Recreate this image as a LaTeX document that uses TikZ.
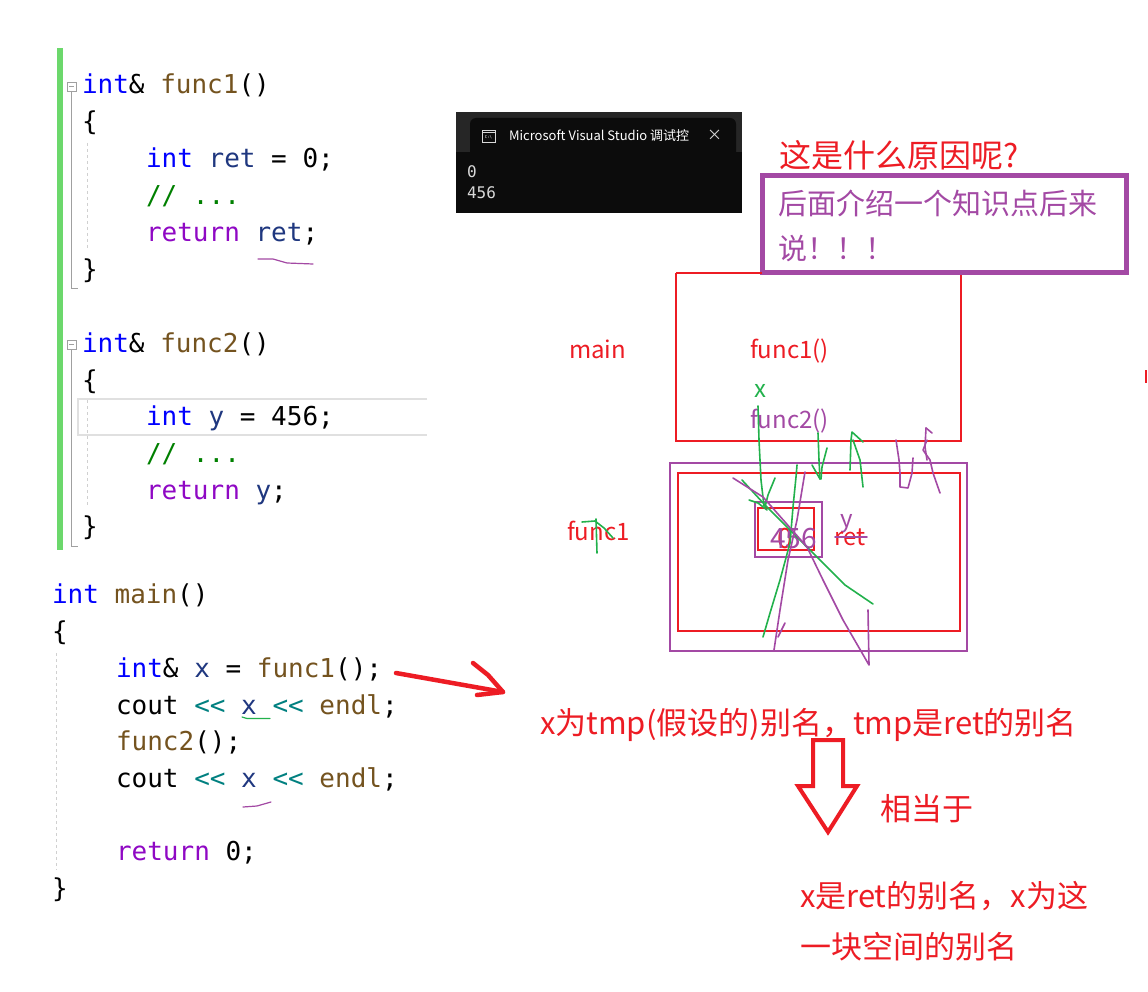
\documentclass[tikz,border=0pt]{standalone}
\usepackage{fontspec}
\setmainfont{Noto Sans CJK SC}
\newfontfamily\codefont{DejaVu Sans Mono}[Ligatures=TeXOff]
\definecolor{kw}{HTML}{0000FF}
\definecolor{fn}{HTML}{74531F}
\definecolor{var}{HTML}{1F377F}
\definecolor{ctl}{HTML}{8F08C4}
\definecolor{cmt}{HTML}{008000}
\definecolor{op}{HTML}{008080}
\definecolor{pred}{HTML}{ED1C24}
\definecolor{ppur}{HTML}{A349A4}
\definecolor{pgreen}{HTML}{22B14C}
\definecolor{gbar}{HTML}{6CD86C}
\definecolor{guide}{HTML}{A0A0A0}
\definecolor{conbg}{HTML}{0C0C0C}
\definecolor{conframe}{HTML}{262626}
\tikzset{
  lbl/.style={inner sep=0pt, outer sep=0pt, anchor=base west},
  code/.style={lbl, font=\codefont\fontsize{26}{30}\selectfont},
  note/.style={lbl, font=\fontsize{#1}{#1}\selectfont},
  note/.default=30,
  scrib/.style={line width=1.6pt, line join=round, line cap=round},
  box/.style={line width=2.2pt},
}
\begin{document}
\begin{tikzpicture}[x=1pt,y=-1pt]
\useasboundingbox (0,0) rectangle (1148,992);
\fill[white] (0,0) rectangle (1148,992);

% ---------------- code editor ----------------
\fill[gbar] (57,48) rectangle (63,550);
% fold markers
\draw[guide, line width=0.8pt] (67,82) rectangle (76,91);
\draw[guide, line width=0.8pt] (69,86.5) -- (74,86.5);
\draw[guide, line width=0.8pt] (71.5,91) -- (71.5,288) -- (78,288);
\draw[guide, line width=0.8pt] (67,340) rectangle (76,349);
\draw[guide, line width=0.8pt] (69,344.5) -- (74,344.5);
\draw[guide, line width=0.8pt] (71.5,349) -- (71.5,546) -- (78,546);
% indent guides
\draw[guide!50, line width=1pt, dashed] (87,143) -- (87,250);
\draw[guide!50, line width=1pt, dashed] (87,400) -- (87,507);
\draw[guide!50, line width=1pt, dashed] (56,653) -- (56,870);
% current line highlight
\draw[black!12, line width=2pt] (427,399) -- (78,399) -- (78,435) -- (427,435);

\node[code] (f1a) at (82,94)  {\textcolor{kw}{int}\textcolor{black}{\&} \textcolor{fn}{func1}()};
\node[code] (f1b) at (82,131) {\{};
\node[code] (f1c) at (146,168) {\textcolor{kw}{int} \textcolor{var}{ret} = 0;};
\node[code] (f1d) at (146,205) {\textcolor{cmt}{// ...}};
\node[code] (f1e) at (146,242) {\textcolor{ctl}{return} \textcolor{var}{ret};};
\node[code] (f1f) at (82,279) {\}};

\node[code] (f2a) at (82,352) {\textcolor{kw}{int}\textcolor{black}{\&} \textcolor{fn}{func2}()};
\node[code] (f2b) at (82,389) {\{};
\node[code] (f2c) at (146,425) {\textcolor{kw}{int} \textcolor{var}{y} = 456;};
\node[code] (f2d) at (146,462) {\textcolor{cmt}{// ...}};
\node[code] (f2e) at (146,499) {\textcolor{ctl}{return} \textcolor{var}{y};};
\node[code] (f2f) at (82,535) {\}};

\node[code] (m1) at (52,603) {\textcolor{kw}{int} \textcolor{fn}{main}()};
\node[code] (m2) at (52,640) {\{};
\node[code] (m3) at (116,677) {\textcolor{kw}{int}\& \textcolor{var}{x} = \textcolor{fn}{func1}();};
\node[code] (m4) at (116,714) {cout \textcolor{op}{<<} \textcolor{var}{x} \textcolor{op}{<<} \textcolor{fn}{endl};};
\node[code] (m5) at (116,750) {\textcolor{fn}{func2}();};
\node[code] (m6) at (116,787) {cout \textcolor{op}{<<} \textcolor{var}{x} \textcolor{op}{<<} \textcolor{fn}{endl};};
\node[code] (m7) at (116,860) {\textcolor{ctl}{return} 0;};
\node[code] (m8) at (52,897) {\}};

% underline scribbles in code
\draw[ppur, scrib, line width=1.2pt] (258,259) -- (273,259) -- (287,263) -- (313,264);
\draw[pgreen, scrib, line width=1.2pt] (242,717) -- (247,718.5) -- (270,718.5);
\draw[ppur, scrib, line width=1.2pt] (243,807) -- (257,806) -- (271,802);

% red hand arrow from code
\coordinate (ra0) at (396,673);
\coordinate (ra1) at (503,692);
\draw[pred, line width=4.5pt, line cap=round, line join=round] (ra0) -- (ra1);
\draw[pred, line width=4.5pt, line cap=round, line join=round] (473,663) -- (488,675) -- (ra1) -- (477,695);

% ---------------- console window ----------------
\fill[conframe] (456,112) rectangle (742,213);
\fill[conbg, rounded corners=6pt] (470,118) rectangle (736,160);
\fill[conbg] (456,152) rectangle (742,213);
\draw[white!85!black, line width=0.8pt] (482,130) rectangle (495,142);
\draw[white!85!black, line width=0.6pt] (482,132.5) -- (495,132.5);
\node[inner sep=0pt, font=\codefont\fontsize{4}{4}\selectfont, text=white] (icn) at (488.5,137.5) {C:\textbackslash};
\node[lbl, font=\fontsize{13}{13}\selectfont, text=white] (ctitle) at (509,141) {Microsoft Visual Studio 调试控};
\node[lbl, font=\fontsize{15}{15}\selectfont, text=white!85!black] (cx) at (707,141) {×};
\node[lbl, font=\codefont\fontsize{16}{16}\selectfont, text=white!85!black] (c0) at (467,178) {0};
\node[lbl, font=\codefont\fontsize{16}{16}\selectfont, text=white!85!black] (c456) at (467,199) {456};

% ---------------- question + note ----------------
\node[note=32, text=pred] (q) at (779,168) {这是什么原因呢?};
\draw[ppur, line width=5pt] (762.5,175.5) rectangle (1126.5,272.5);
\node[note=29, text=ppur] (n1) at (778,215) {后面介绍一个知识点后来};
\node[note=29, text=ppur] (n2) at (778,260) {说！！！};

% ---------------- stack frames ----------------
\draw[pred, box] (676,273) -- (676,441) -- (961,441) -- (961,275);
\draw[pred, box] (676,273) -- (762,273);
\node[note=24, text=pred] (lmain) at (569,358) {main};
\node[note=24, text=pred] (lf1) at (750,358) {func1()};
\node[note=24, text=pgreen] (lx) at (754,397) {x};
\node[note=24, text=ppur] (lf2) at (750,428) {func2()};

\draw[ppur, box] (670,463) rectangle (967,651);
\draw[pred, box] (678,473) rectangle (960,631);
\draw[ppur, box] (755,502) rectangle (822,557);
\draw[pred, box] (758,508) rectangle (814,550);
\node[note=28, text=pred] (v0) at (777,548) {0};
\node[note=28, text=ppur] (v456) at (770,548) {456};
\node[note=24, text=ppur] (ly) at (840,527) {y};
\node[note=24, text=pred] (lret) at (834,545) {ret};
\draw[ppur, scrib] (835,537) -- (867,537);
\node[note=24, text=pred] (lfunc1) at (567,540) {func1};

% green scribbles
\draw[pgreen, scrib] (758,406) -- (759,440) -- (761,480) -- (764,506);
\draw[pgreen, scrib] (775,478) -- (768,495) -- (765,507);
\draw[pgreen, scrib] (749,500) -- (758,503) -- (767,510);
\draw[pgreen, scrib] (742,480) -- (765,505) -- (790,530) -- (815,555) -- (845,585) -- (873,604);
\draw[pgreen, scrib] (797,465) -- (796,477) -- (793,507) -- (790,543) -- (780,580) -- (770,613) -- (763,637);
\draw[pgreen, scrib] (818,433) -- (819,460) -- (820,479);
\draw[pgreen, scrib] (827,448) -- (822,467) -- (821,479);
\draw[pgreen, scrib] (812,465) -- (820,479);
\draw[pgreen, scrib] (850,470) -- (851,440) -- (852,432) -- (863,442);
\draw[pgreen, scrib] (853,440) -- (860,460) -- (863,487);
\draw[pgreen, scrib] (582,522) -- (595,521) -- (604,528) -- (613,538);
\draw[pgreen, scrib] (596,519) -- (597,553);

% purple scribbles
\draw[ppur, scrib] (733,478) -- (763,497) -- (807,547) -- (823,580) -- (843,620) -- (869,665) -- (868,610);
\draw[ppur, scrib] (805,472) -- (797,520) -- (788,560) -- (780,610) -- (774,650);
\draw[ppur, scrib] (785,623) -- (778,637);
\draw[ppur, scrib] (896,440) -- (899,460) -- (900,473) -- (900,487) -- (908,488) -- (912,473) -- (913,458);
\draw[ppur, scrib] (926,428) -- (925,447) -- (927,460);
\draw[ppur, scrib] (926,428) -- (932,433);
\draw[ppur, scrib] (927,440) -- (923,450) -- (930,460) -- (933,473) -- (940,493);

% tiny red mark at right edge
\draw[pred, line width=2pt] (1146,370) -- (1146,383);

% ---------------- explanation ----------------
\node[note=31, text=pred] (e1) at (540,734) {x为tmp(假设的)别名，tmp是ret的别名};
\draw[pred, line width=4pt, line join=miter] (813,740) -- (843,740) -- (843,786) -- (857,786) -- (828,832) -- (798,786) -- (813,786) -- cycle;
\node[note=31, text=pred] (e2) at (880,820) {相当于};
\node[note=31, text=pred] (e3) at (800,907) {x是ret的别名，x为这};
\node[note=31, text=pred] (e4) at (800,958) {一块空间的别名};
\end{tikzpicture}
\end{document}
